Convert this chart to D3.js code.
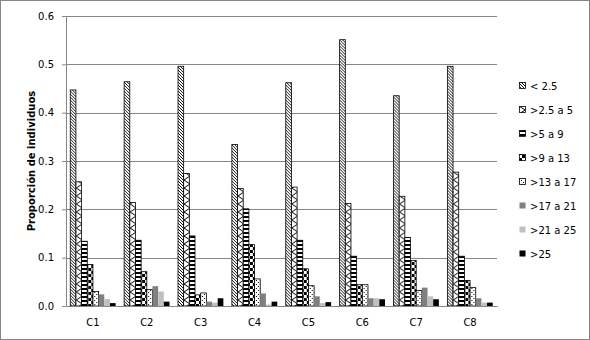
<!DOCTYPE html>
<html>
<head>
<meta charset="utf-8">
<script src="https://cdn.jsdelivr.net/npm/d3@7"></script>
<style>
  body { margin: 0; background: #fff; }
  text { font-family: "DejaVu Sans", Verdana, sans-serif; }
</style>
</head>
<body>
<svg id="chart"></svg>
<script>
// categories and series
const categories = ['C1', 'C2', 'C3', 'C4', 'C5', 'C6', 'C7', 'C8'];
const seriesNames = ['< 2.5', '>2.5 a 5', '>5 a 9', '>9 a 13', '>13 a 17', '>17 a 21', '>21 a 25', '>25'];

// one array per series, values per category C1..C8
const s0 = [0.447, 0.464, 0.496, 0.334, 0.462, 0.551, 0.435, 0.496];
const s1 = [0.257, 0.214, 0.274, 0.243, 0.246, 0.212, 0.227, 0.277];
const s2 = [0.134, 0.136, 0.145, 0.201, 0.136, 0.103, 0.142, 0.103];
const s3 = [0.086, 0.071, 0.023, 0.127, 0.077, 0.044, 0.094, 0.053];
const s4 = [0.030, 0.034, 0.027, 0.056, 0.042, 0.044, 0.032, 0.038];
const s5 = [0.024, 0.041, 0.009, 0.026, 0.020, 0.016, 0.038, 0.016];
const s6 = [0.014, 0.030, 0.007, 0.003, 0.006, 0.016, 0.020, 0.007];
const s7 = [0.006, 0.009, 0.016, 0.009, 0.008, 0.014, 0.014, 0.007];
const seriesValues = [s0, s1, s2, s3, s4, s5, s6, s7];

const yTicks = [0, 0.1, 0.2, 0.3, 0.4, 0.5, 0.6];

const W = 590, H = 340;
const margin = { top: 16, bottom: 34, left: 66, right: 93 };
const width = W - margin.left - margin.right;
const height = H - margin.top - margin.bottom;

const svg = d3.select('#chart').attr('width', W).attr('height', H);

// outer frame
svg.append('rect')
  .attr('x', 0.5).attr('y', 0.5)
  .attr('width', W - 1).attr('height', H - 1)
  .attr('fill', '#fff').attr('stroke', '#868686');

// fill patterns, one for each series
const defs = svg.append('defs');
function pattern(id, w, h, build) {
  const p = defs.append('pattern')
    .attr('id', id).attr('patternUnits', 'userSpaceOnUse')
    .attr('width', w).attr('height', h);
  p.append('rect').attr('width', w).attr('height', h).attr('fill', '#fff');
  build(p);
}
pattern('p0', 3, 3, p => {
  p.append('path').attr('d', 'M-1,-1 L4,4 M-1,2 L1,4 M2,-1 L4,1')
    .attr('stroke', '#000').attr('stroke-width', 0.9);
});
pattern('p1', 6, 8, p => {
  p.append('path').attr('d', 'M6,0 L0,4 L6,8')
    .attr('fill', 'none').attr('stroke', '#000').attr('stroke-width', 1);
});
pattern('p2', 4, 4, p => {
  p.append('rect').attr('width', 4).attr('height', 2).attr('fill', '#000');
});
pattern('p3', 6, 6, p => {
  p.append('rect').attr('width', 3).attr('height', 3).attr('fill', '#000');
  p.append('rect').attr('x', 3).attr('y', 3).attr('width', 3).attr('height', 3).attr('fill', '#000');
});
pattern('p4', 4, 4, p => {
  p.append('rect').attr('width', 1).attr('height', 1).attr('fill', '#000');
  p.append('rect').attr('x', 2).attr('y', 2).attr('width', 1).attr('height', 1).attr('fill', '#000');
});

const fills = ['url(#p0)', 'url(#p1)', 'url(#p2)', 'url(#p3)', 'url(#p4)', '#808080', '#c0c0c0', '#000'];
const strokes = ['#000', '#000', '#000', '#000', '#000', 'none', 'none', 'none'];

const chart = svg.append('g')
  .attr('transform', `translate(${margin.left},${margin.top})`);

// scales
const x0 = d3.scaleBand().domain(categories).range([0, width])
  .paddingInner(0.158).paddingOuter(0.079);
const x1 = d3.scaleBand().domain(d3.range(seriesNames.length)).range([0, x0.bandwidth()]);
const y = d3.scaleLinear().domain([0, 0.6]).range([height, 0]);

// gridlines
chart.append('g')
  .selectAll('line')
  .data(yTicks.slice(1))
  .join('line')
    .attr('x1', 0).attr('x2', width)
    .attr('y1', d => Math.round(y(d)) + 0.5).attr('y2', d => Math.round(y(d)) + 0.5)
    .attr('stroke', '#868686');

// bars
const groups = chart.selectAll('.grp')
  .data(categories)
  .join('g')
    .attr('class', 'grp')
    .attr('transform', d => `translate(${x0(d)},0)`);

groups.selectAll('rect')
  .data((c, ci) => seriesValues.map((vals, si) => ({ si, v: vals[ci] })))
  .join('rect')
    .attr('x', d => x1(d.si))
    .attr('y', d => y(d.v))
    .attr('width', x1.bandwidth())
    .attr('height', d => height - y(d.v))
    .attr('fill', d => fills[d.si])
    .attr('stroke', d => strokes[d.si])
    .attr('stroke-width', 0.8);

// y axis
const yAxis = d3.axisLeft(y).tickValues(yTicks).tickFormat(d3.format('.1f'))
  .tickSize(4).tickPadding(8).tickSizeOuter(0);
const yAxisG = chart.append('g').call(yAxis);
yAxisG.select('.domain').attr('stroke', '#868686');
yAxisG.selectAll('.tick line').attr('stroke', '#868686');
yAxisG.selectAll('.tick text')
  .attr('font-size', 10).attr('fill', '#000')
  .style('font-family', '"DejaVu Sans", Verdana, sans-serif');

// x axis
const xAxis = d3.axisBottom(x0).tickSize(0).tickPadding(13).tickSizeOuter(0);
const xAxisG = chart.append('g')
  .attr('transform', `translate(0,${height})`)
  .call(xAxis);
xAxisG.select('.domain').attr('stroke', '#868686');
xAxisG.selectAll('.tick text')
  .attr('font-size', 10).attr('fill', '#000')
  .style('font-family', '"DejaVu Sans", Verdana, sans-serif');

// y axis title
svg.append('text')
  .attr('transform', `translate(31,${margin.top + height / 2}) rotate(-90)`)
  .attr('text-anchor', 'middle')
  .attr('dy', '0.35em')
  .attr('font-size', 10)
  .attr('font-weight', 'bold')
  .text('Proporción de individuos');

// legend
const legend = svg.append('g').attr('transform', 'translate(519,86)');
const item = legend.selectAll('g')
  .data(seriesNames)
  .join('g')
    .attr('transform', (d, i) => `translate(0,${i * 24})`);
item.append('rect')
  .attr('x', 0.5).attr('y', -3.5)
  .attr('width', 6).attr('height', 6)
  .attr('fill', (d, i) => fills[i])
  .attr('stroke', (d, i) => strokes[i])
  .attr('stroke-width', 0.8);
item.append('text')
  .attr('x', 11).attr('dy', '0.35em')
  .attr('font-size', 10)
  .text(d => d);
</script>
</body>
</html>
